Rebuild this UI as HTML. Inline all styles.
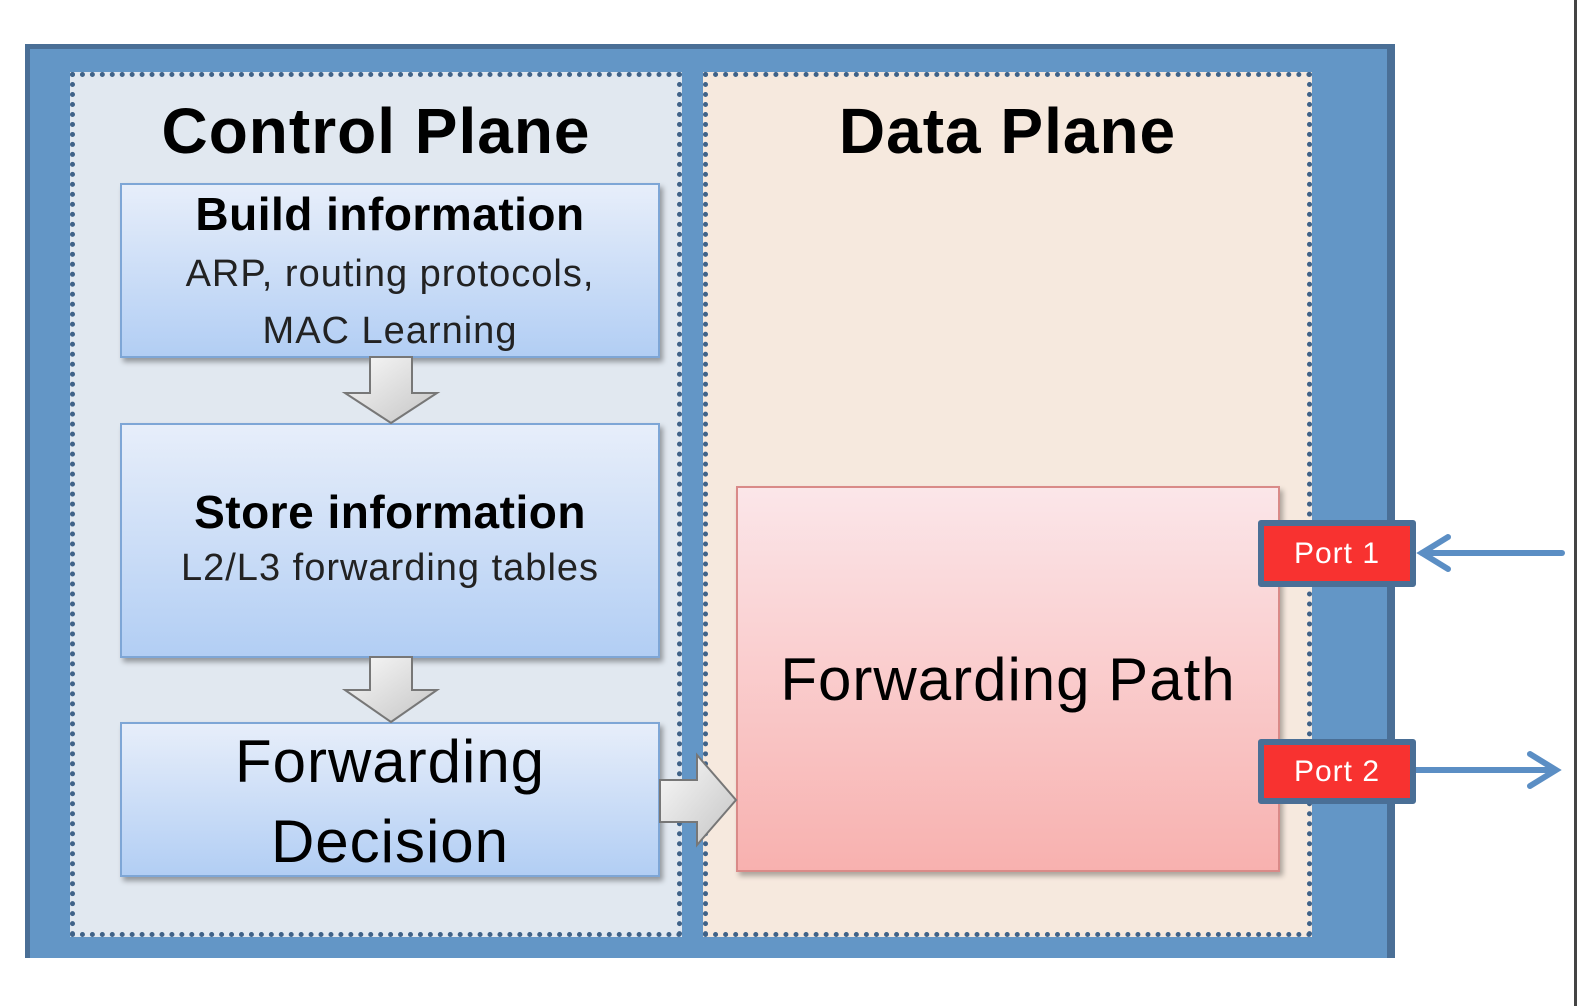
<!DOCTYPE html>
<html><head><style>
body{margin:0;width:1582px;height:1006px;background:#fff;position:relative;overflow:hidden;font-family:"Liberation Sans",sans-serif;}
div{position:absolute;box-sizing:border-box;}
.t{text-align:center;color:#000;white-space:nowrap;}
.box{background:linear-gradient(#e7eefa,#b2cef4);border:2px solid #7ea6d6;box-shadow:3px 4px 5px rgba(0,0,0,0.35);}
.port{background:#f83230;border:6px solid #4a6f96;border-radius:3px;color:#fff;font-size:30px;letter-spacing:1px;text-align:center;}
</style></head><body>
<div style="left:1574px;top:0;width:3px;height:1006px;background:#444"></div>
<div style="left:25px;top:44px;width:1370px;height:914px;background:#6396c6;border:5px solid #4a6f96;border-bottom:none;border-right-width:8px"></div>
<div style="left:70px;top:72px;width:612px;height:865px;background:#e1e8f0;border:5px dotted #3f6288"></div>
<div style="left:703px;top:72px;width:609px;height:865px;background:#f6e9de;border:5px dotted #3f6288"></div>
<div class="t" style="left:70px;top:94px;width:612px;font-size:64px;font-weight:bold;letter-spacing:1px">Control Plane</div>
<div class="t" style="left:703px;top:94px;width:609px;font-size:64px;font-weight:bold;letter-spacing:1px">Data Plane</div>
<div class="box" style="left:120px;top:183px;width:540px;height:175px"></div>
<div class="t" style="left:120px;top:187px;width:540px;font-size:46px;font-weight:bold;letter-spacing:0.5px">Build information</div>
<div class="t" style="left:120px;top:246px;width:540px;font-size:38px;line-height:57px;color:#222;letter-spacing:1px">ARP, routing protocols,<br>MAC Learning</div>
<div class="box" style="left:120px;top:423px;width:540px;height:235px"></div>
<div class="t" style="left:120px;top:485px;width:540px;font-size:46px;font-weight:bold;letter-spacing:0.5px">Store information</div>
<div class="t" style="left:120px;top:547px;width:540px;font-size:38px;color:#222;letter-spacing:1px">L2/L3 forwarding tables</div>
<div class="box" style="left:120px;top:722px;width:540px;height:155px"></div>
<div class="t" style="left:120px;top:722px;width:540px;font-size:60px;line-height:80px;letter-spacing:1px">Forwarding<br>Decision</div>
<div style="left:736px;top:486px;width:544px;height:386px;background:linear-gradient(#fbe6e9,#f8b1af);border:2px solid #d98a88;box-shadow:3px 4px 5px rgba(0,0,0,0.3)"></div>
<div class="t" style="left:736px;top:645px;width:544px;font-size:60px;letter-spacing:1px">Forwarding Path</div>
<svg style="position:absolute;left:0;top:0" width="1582" height="1006">
<defs><linearGradient id="g" x1="0" y1="0" x2="1" y2="1"><stop offset="0" stop-color="#fafafa"/><stop offset="1" stop-color="#c4c4c4"/></linearGradient></defs>
<polygon points="370,357 412,357 412,393 437,393 391,423 345,393 370,393" fill="url(#g)" stroke="#777" stroke-width="2"/>
<polygon points="370,657 412,657 412,690 437,690 391,722 345,690 370,690" fill="url(#g)" stroke="#777" stroke-width="2"/>
<polygon points="660,780 697,780 697,755 736,800 697,845 697,822 660,822" fill="url(#g)" stroke="#777" stroke-width="2"/>
<g stroke="#5b8ec4" stroke-width="6" fill="none" stroke-linecap="round">
<line x1="1562" y1="553" x2="1422" y2="553"/><polyline points="1448,537 1422,553 1448,569"/>
<line x1="1415" y1="770" x2="1555" y2="770"/><polyline points="1530,754 1556,770 1530,786"/>
</g>
</svg>
<div class="port" style="left:1258px;top:520px;width:158px;height:67px;line-height:55px">Port 1</div>
<div class="port" style="left:1258px;top:739px;width:158px;height:65px;line-height:53px">Port 2</div>
</body></html>
